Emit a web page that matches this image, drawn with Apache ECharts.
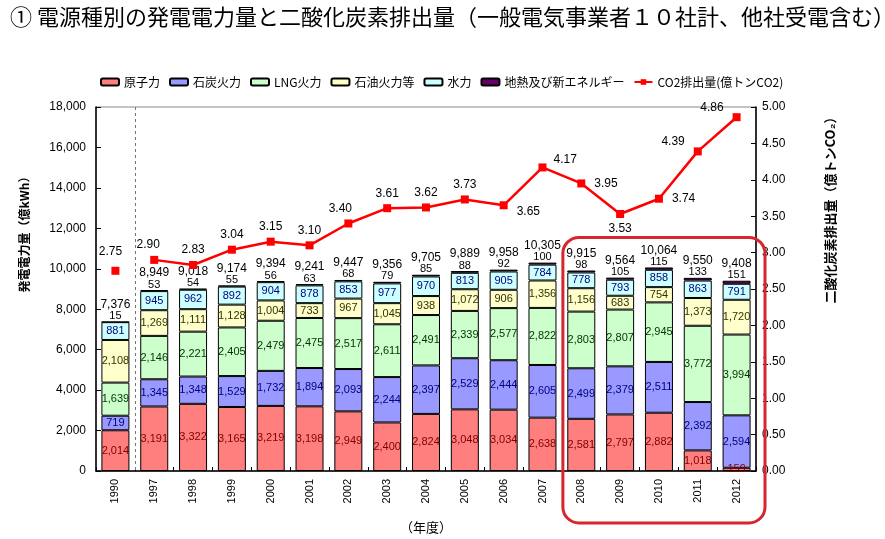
<!DOCTYPE html>
<html>
<head>
<meta charset="utf-8">
<script src="https://cdn.jsdelivr.net/npm/echarts@6/dist/echarts.min.js"></script>
<style>html,body{margin:0;padding:0;background:#fff;}#c{width:885px;height:539px;}</style>
</head>
<body>
<div id="c"></div>
<script>
const years = ['1990','1997','1998','1999','2000','2001','2002','2003','2004','2005','2006','2007','2008','2009','2010','2011','2012'];
const nuclear = [2014,3191,3322,3165,3219,3198,2949,2400,2824,3048,3034,2638,2581,2797,2882,1018,159];
const coal = [719,1345,1348,1529,1732,1894,2093,2244,2397,2529,2444,2605,2499,2379,2511,2392,2594];
const lng = [1639,2146,2221,2405,2479,2475,2517,2611,2491,2339,2577,2822,2803,2807,2945,3772,3994];
const oil = [2108,1269,1111,1128,1004,733,967,1045,938,1072,906,1356,1156,683,754,1373,1720];
const hydro = [881,945,962,892,904,878,853,977,970,813,905,784,778,793,858,863,791];
const geo = [15,53,54,55,56,63,68,79,85,88,92,100,98,105,115,133,151];
const totals = [7376,8949,9018,9174,9394,9241,9447,9356,9705,9889,9958,10305,9915,9564,10064,9550,9408];
const co2 = [2.75,2.90,2.83,3.04,3.15,3.10,3.40,3.61,3.62,3.73,3.65,4.17,3.95,3.53,3.74,4.39,4.86];
const leftTicks = {min:0, max:18000, interval:2000};
const rightTicks = {min:0, max:5, interval:0.5};

const co2LabelPos = ['top','top','top','top','top','top','top','top','top','top','right','right','right','bottom','right','left','left'];
const co2LabelOffset = [[-5,-4],[-6,0],[0,0],[0,0],[0,0],[0,0],[-8,0],[0,0],[0,0],[0,0],[4,6],[2,-8],[4,0],[0,0],[4,0],[-4,-10],[-4,-10]];

const F = 'Liberation Sans, Arial, Noto Sans CJK JP, sans-serif';
const JF = 'Noto Sans CJK JP, sans-serif';
const fmt = v => v.toLocaleString('en-US');

function barSeries(name, data, color, labelColor) {
  return {
    name, type: 'bar', stack: 'gen', data, barWidth: 28,
    itemStyle: { color, borderColor: '#000', borderWidth: 1 },
    label: { show: true, position: 'inside', color: labelColor, fontSize: 11, fontFamily: F,
      formatter: p => fmt(p.value) },
    emphasis: { disabled: true }
  };
}

const chart = echarts.init(document.getElementById('c'), null, {renderer: 'canvas'});
const co2Name = 'CO2排出量(億トンCO2)';
const lineData = co2.map((v, i) => i === 0 ? '-' : {
  value: v,
  label: { position: co2LabelPos[i], offset: co2LabelOffset[i] }
});
const option = {
  animation: false,
  title: { text: '① 電源種別の発電電力量と二酸化炭素排出量（一般電気事業者１０社計、他社受電含む）',
    left: 5, top: 1, textStyle: { fontFamily: JF, fontSize: 22, fontWeight: 'normal', color: '#000' } },
  legend: {
    top: 71, left: 95, itemWidth: 18, itemHeight: 7, itemGap: 9,
    textStyle: { fontFamily: JF, fontSize: 12, color: '#000' },
    data: ['原子力','石炭火力','LNG火力','石油火力等','水力','地熱及び新エネルギー', co2Name]
  },
  grid: { left: 96, right: 129, top: 107, bottom: 66, show: true, borderColor: '#888', borderWidth: 1 },
  xAxis: {
    type: 'category', data: years, boundaryGap: true,
    axisLine: { lineStyle: { color: '#000', width: 1.5 } },
    axisTick: { show: true, inside: true, length: 4, lineStyle: { color: '#000' } },
    axisLabel: { rotate: 90, fontSize: 11, fontFamily: F, color: '#000', margin: 8 },
    splitLine: { show: false },
    name: '（年度）', nameLocation: 'middle', nameGap: 50,
    nameTextStyle: { fontFamily: JF, fontSize: 13, color: '#000' }
  },
  yAxis: [
    { type: 'value', min: leftTicks.min, max: leftTicks.max, interval: leftTicks.interval,
      axisLine: { show: true, lineStyle: { color: '#000', width: 1.5 } },
      axisTick: { show: true, inside: true, length: 5, lineStyle: { color: '#000' } },
      splitLine: { show: false },
      axisLabel: { fontSize: 12, fontFamily: F, color: '#000', margin: 10, formatter: v => fmt(v) },
      name: '発電電力量（億kWh）', nameLocation: 'middle', nameGap: 66, nameRotate: 90,
      nameTextStyle: { fontFamily: JF, fontSize: 12, fontWeight: 'bold', color: '#000', padding: [0, 0, 0, 115] } },
    { type: 'value', min: rightTicks.min, max: rightTicks.max, interval: rightTicks.interval, position: 'right',
      axisLine: { show: true, lineStyle: { color: '#000', width: 1.5 } },
      axisTick: { show: true, inside: true, length: 5, lineStyle: { color: '#000' } },
      splitLine: { show: false },
      axisLabel: { fontSize: 12, fontFamily: F, color: '#000', margin: 6, formatter: v => v.toFixed(2) },
      name: '二酸化炭素排出量（億トンCO₂）', nameLocation: 'middle', nameGap: 68, nameRotate: 90,
      nameTextStyle: { fontFamily: JF, fontSize: 13, fontWeight: 'bold', color: '#000', padding: [0, 0, 0, 164] } }
  ],
  series: [
    barSeries('原子力', nuclear, '#FF7F7F', '#800000'),
    barSeries('石炭火力', coal, '#9999FF', '#000080'),
    barSeries('LNG火力', lng, '#CCFFCC', '#003300'),
    barSeries('石油火力等', oil, '#FFFFCC', '#333300'),
    barSeries('水力', hydro, '#CCFFFF', '#000080'),
    {
      name: '地熱及び新エネルギー', type: 'bar', stack: 'gen', data: geo, barWidth: 28,
      itemStyle: { color: '#660066', borderColor: '#000', borderWidth: 1 },
      label: { show: true, position: 'top', distance: 0, fontFamily: F, color: '#000',
        formatter: p => '{t|' + fmt(totals[p.dataIndex]) + '}\n{g|' + fmt(p.value) + '}',
        rich: { t: { fontSize: 12, fontFamily: F, color: '#000', lineHeight: 12 },
                g: { fontSize: 11, fontFamily: F, color: '#000', lineHeight: 11 } } },
      emphasis: { disabled: true }
    },
    {
      name: co2Name, type: 'line', yAxisIndex: 1, data: lineData,
      symbol: 'rect', symbolSize: 8, connectNulls: false,
      lineStyle: { color: '#FF0000', width: 2.5 }, itemStyle: { color: '#FF0000' },
      label: { show: true, fontSize: 12, fontFamily: F, color: '#000', formatter: p => p.value.toFixed(2) },
      emphasis: { disabled: true }, z: 5
    },
    {
      name: co2Name, type: 'line', yAxisIndex: 1, data: co2.map((v, i) => i === 0 ? v : '-'),
      symbol: 'rect', symbolSize: 8,
      lineStyle: { color: '#FF0000', width: 0 }, itemStyle: { color: '#FF0000' },
      label: { show: true, position: 'top', offset: co2LabelOffset[0], fontSize: 12, fontFamily: F, color: '#000',
        formatter: p => p.value.toFixed(2) },
      emphasis: { disabled: true }, z: 5
    }
  ]
};
chart.setOption(option);

// highlight box around 2008-2012 and dashed separator after 1990, positioned from the axes
const c90 = chart.convertToPixel({xAxisIndex: 0}, '1990');
const c97 = chart.convertToPixel({xAxisIndex: 0}, '1997');
const c08 = chart.convertToPixel({xAxisIndex: 0}, '2008');
const c07 = chart.convertToPixel({xAxisIndex: 0}, '2007');
const c12 = chart.convertToPixel({xAxisIndex: 0}, '2012');
const cw = c08 - c07;
const yTop = chart.convertToPixel({yAxisIndex: 0}, Math.max(...totals.slice(12)));
const yBot = chart.convertToPixel({yAxisIndex: 0}, 0);
const yMax = chart.convertToPixel({yAxisIndex: 0}, leftTicks.max);
const bx = c08 - cw / 2 + 1, bx2 = c12 + cw / 2 + 9;
const by = yTop - 30, by2 = yBot + 52;
const sx = Math.round((c90 + c97) / 2) + 0.5;
chart.setOption({ graphic: [
  { type: 'line', z: 1, shape: { x1: sx, y1: yMax, x2: sx, y2: yBot },
    style: { stroke: '#777', lineWidth: 1, lineDash: [3, 3] } },
  { type: 'rect', z: 100,
    shape: { x: bx, y: by, width: bx2 - bx, height: by2 - by, r: 16 },
    style: { fill: 'none', stroke: '#D7262E', lineWidth: 3 } }] });
</script>
</body>
</html>
